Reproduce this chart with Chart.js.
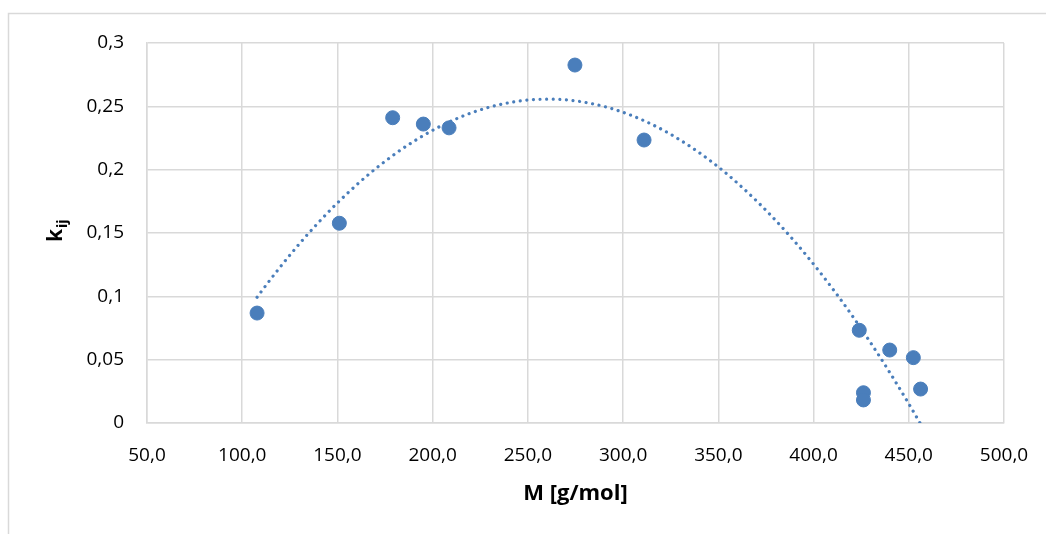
<!DOCTYPE html>
<html>
<head>
<meta charset="utf-8">
<script src="https://cdn.jsdelivr.net/npm/chart.js@4"></script>
<style>
  html, body { margin: 0; padding: 0; background: #fff; }
  #wrap { width: 1046px; height: 534px; }
</style>
</head>
<body>
<div id="wrap"><canvas id="myChart" width="1046" height="534"></canvas></div>
<script>
const massValues = [107.8, 151.0, 179.0, 195.1, 208.6, 274.7, 311.0, 424.0, 426.2, 426.2, 440.0, 452.4, 456.2];
const kijValues  = [0.0868, 0.1577, 0.2410, 0.2360, 0.2330, 0.2826, 0.2234, 0.0732, 0.0239, 0.0182, 0.0576, 0.0516, 0.0268];

// Achsen
const xTickValues = [50, 100, 150, 200, 250, 300, 350, 400, 450, 500];
const yTickValues = [0, 0.05, 0.1, 0.15, 0.2, 0.25, 0.3];
const xTitle = 'M [g/mol]';
const yTitleMain = 'k';
const yTitleSub = 'ij';

const blue = '#4a7ebb';
const gridColor = '#d9d9d9';
const fontFamily = '"Open Sans", "Noto Sans", sans-serif';

// Polynomische Trendlinie (2. Ordnung), kleinste Quadrate
function quadFit(xs, ys) {
    let s = [0, 0, 0, 0, 0], t = [0, 0, 0];
    xs.forEach((x, i) => {
        let p = 1;
        for (let k = 0; k < 5; k++) { s[k] += p; if (k < 3) t[k] += p * ys[i]; p *= x; }
    });
    const m = [[s[0], s[1], s[2], t[0]], [s[1], s[2], s[3], t[1]], [s[2], s[3], s[4], t[2]]];
    for (let c = 0; c < 3; c++) {
        for (let r = c + 1; r < 3; r++) {
            const f = m[r][c] / m[c][c];
            for (let k = c; k < 4; k++) m[r][k] -= f * m[c][k];
        }
    }
    const a = [0, 0, 0];
    for (let r = 2; r >= 0; r--) {
        let v = m[r][3];
        for (let k = r + 1; k < 3; k++) v -= m[r][k] * a[k];
        a[r] = v / m[r][r];
    }
    return a;
}

const coef = quadFit(massValues, kijValues);
const xMin = Math.min(...massValues), xMax = Math.max(...massValues);
const trendPoints = [];
for (let i = 0; i <= 120; i++) {
    const x = xMin + (xMax - xMin) * i / 120;
    trendPoints.push({ x: x, y: coef[0] + coef[1] * x + coef[2] * x * x });
}

const scatterPoints = massValues.map((m, i) => ({ x: m, y: kijValues[i] }));

// Titel und Rahmen selbst zeichnen
const decorPlugin = {
    id: 'decor',
    beforeDraw(chart) {
        const ctx = chart.ctx;
        ctx.save();
        ctx.strokeStyle = gridColor;
        ctx.lineWidth = 1.5;
        ctx.beginPath();
        ctx.moveTo(8.5, 534);
        ctx.lineTo(8.5, 13.5);
        ctx.lineTo(1046, 13.5);
        ctx.stroke();
        ctx.restore();
    },
    afterDraw(chart) {
        const ctx = chart.ctx;
        const area = chart.chartArea;
        ctx.save();
        ctx.fillStyle = '#000';
        // x-Achsentitel
        ctx.font = 'bold 22px ' + fontFamily;
        ctx.textAlign = 'center';
        ctx.textBaseline = 'middle';
        ctx.fillText(xTitle, (area.left + area.right) / 2, 494);
        // y-Achsentitel mit Index
        ctx.translate(62, 242);
        ctx.rotate(-Math.PI / 2);
        ctx.textAlign = 'left';
        ctx.textBaseline = 'alphabetic';
        ctx.font = 'bold 21px ' + fontFamily;
        ctx.fillText(yTitleMain, 0, 0);
        const w = ctx.measureText(yTitleMain).width;
        ctx.font = 'bold 14px ' + fontFamily;
        ctx.fillText(yTitleSub, w + 1, 5);
        ctx.restore();
    }
};

const ctx = document.getElementById('myChart').getContext('2d');
new Chart(ctx, {
    type: 'scatter',
    data: {
        datasets: [
            {
                label: 'Trend',
                data: trendPoints,
                showLine: true,
                borderColor: blue,
                borderWidth: 3.2,
                borderDash: [0.01, 6.6],
                borderCapStyle: 'round',
                pointRadius: 0,
                pointHoverRadius: 0,
                tension: 0,
                order: 0
            },
            {
                label: 'kij',
                data: scatterPoints,
                backgroundColor: blue,
                borderColor: blue,
                borderWidth: 1,
                pointRadius: 7,
                order: 1
            }
        ]
    },
    options: {
        responsive: false,
        animation: false,
        events: [],
        layout: { padding: { left: 0, right: 42, top: 43, bottom: 0 } },
        plugins: {
            legend: { display: false },
            tooltip: { enabled: false }
        },
        scales: {
            x: {
                type: 'linear',
                min: 50,
                max: 500,
                afterBuildTicks: scale => { scale.ticks = xTickValues.map(v => ({ value: v })); },
                afterFit: scale => {
                    scale.height = 111;
                    scale.paddingLeft = 0;
                    scale.paddingRight = 0;
                },
                grid: { color: gridColor, lineWidth: 1.5, drawTicks: false },
                border: { color: gridColor, width: 1.5 },
                ticks: {
                    padding: 21,
                    maxRotation: 0,
                    color: '#000',
                    font: { family: fontFamily, size: 19 },
                    callback: v => v.toFixed(1).replace('.', ',')
                }
            },
            y: {
                type: 'linear',
                min: 0,
                max: 0.3,
                afterBuildTicks: scale => { scale.ticks = yTickValues.map(v => ({ value: v })); },
                afterFit: scale => {
                    scale.width = 147;
                    scale.paddingTop = 0;
                    scale.paddingBottom = 0;
                },
                grid: { color: gridColor, lineWidth: 1.5, drawTicks: false },
                border: { color: gridColor, width: 1.5 },
                ticks: {
                    padding: 23,
                    color: '#000',
                    font: { family: fontFamily, size: 19 },
                    callback: v => String(Number(v.toFixed(2))).replace('.', ',')
                }
            }
        }
    },
    plugins: [decorPlugin]
});
</script>
</body>
</html>
